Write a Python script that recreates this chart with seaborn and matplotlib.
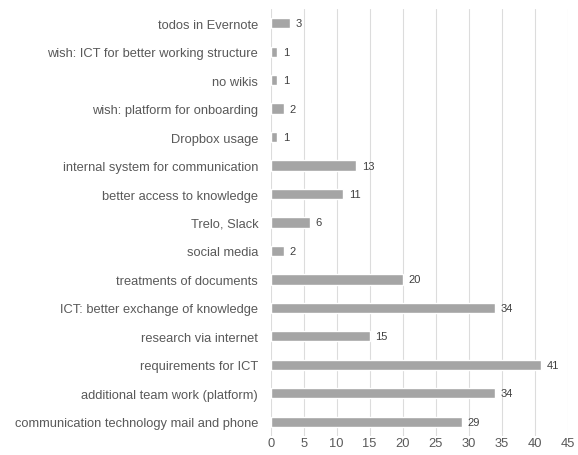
import matplotlib
matplotlib.use("Agg")
import matplotlib.pyplot as plt
import seaborn as sns
import pandas as pd

categories = [
    "todos in Evernote",
    "wish: ICT for better working structure",
    "no wikis",
    "wish: platform for onboarding",
    "Dropbox usage",
    "internal system for communication",
    "better access to knowledge",
    "Trelo, Slack",
    "social media",
    "treatments of documents",
    "ICT: better exchange of knowledge",
    "research via internet",
    "requirements for ICT",
    "additional team work (platform)",
    "communication technology mail and phone",
]
values = [3, 1, 1, 2, 1, 13, 11, 6, 2, 20, 34, 15, 41, 34, 29]
x_ticks = [0, 5, 10, 15, 20, 25, 30, 35, 40, 45]

df = pd.DataFrame({"category": categories, "value": values})

sns.set_theme(style="white")
plt.rcParams["font.family"] = ["Liberation Sans", "DejaVu Sans"]

fig = plt.figure(figsize=(5.78, 4.56), dpi=100)
ax = fig.add_axes([0.4683, 0.0417, 0.5138, 0.9364])

sns.barplot(data=df, x="value", y="category", order=categories, orient="h",
            color="#a5a5a5", width=0.36, saturation=1, ax=ax, zorder=3)

ax.set_xlim(0, 45)
ax.set_ylim(len(categories) - 0.5, -0.5)
ax.set_xticks(x_ticks)
ax.set_xticklabels([str(t) for t in x_ticks])
ax.xaxis.grid(True, color="#dcdcdc", linewidth=0.8, zorder=0)
ax.yaxis.grid(False)
for s in ax.spines.values():
    s.set_visible(False)
ax.set_xlabel("")
ax.set_ylabel("")
ax.tick_params(axis="x", length=0, pad=1, labelsize=9.3, labelcolor="#595959")
ax.tick_params(axis="y", length=0, pad=9, labelsize=9.3, labelcolor="#595959")

for c in ax.containers:
    ax.bar_label(c, padding=4, fontsize=8, color="#404040")

fig.savefig("out.png", dpi=100)
